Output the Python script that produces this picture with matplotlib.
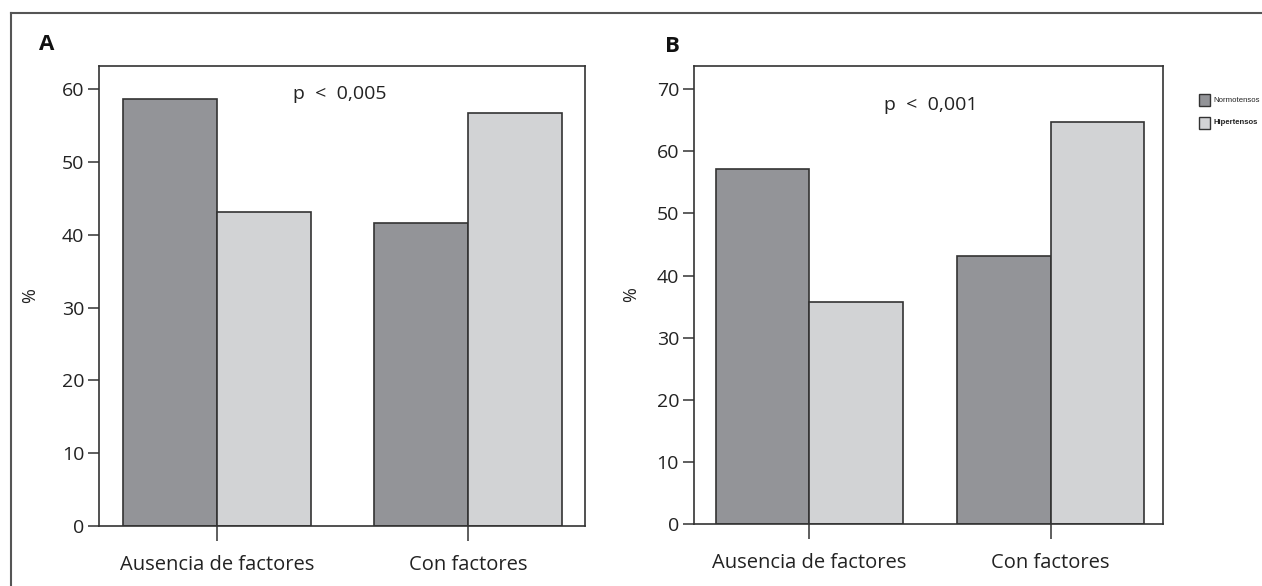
import matplotlib
matplotlib.use("Agg")
import matplotlib.pyplot as plt
from matplotlib.lines import Line2D
from matplotlib.patches import Rectangle

categories = ["Ausencia de factores", "Con factores"]
series_names = ["Normotensos", "Hipertensos"]
panel_a_normo = [58.7, 41.6]
panel_a_hiper = [43.1, 56.8]
panel_b_normo = [57.1, 43.2]
panel_b_hiper = [35.7, 64.7]
panel_a_ticks = [0, 10, 20, 30, 40, 50, 60]
panel_b_ticks = [0, 10, 20, 30, 40, 50, 60, 70]
p_text_a = "p  <  0,005"
p_text_b = "p  <  0,001"

W, H = 1262, 586
DPI = 100
DARK = "#939498"
LIGHT = "#d2d3d5"
EDGE = "#333333"
FONT = ["Open Sans", "DejaVu Sans"]
plt.rcParams["font.family"] = FONT

fig = plt.figure(figsize=(W / DPI, H / DPI), dpi=DPI)


def px_axes(x0, y0, x1, y1):
    return fig.add_axes([x0 / W, 1 - y1 / H, (x1 - x0) / W, (y1 - y0) / H])


def draw_panel(ax, normo, hiper, ticks, ylim, xlim, bw, ptext, pxy, ylab_x):
    x = list(range(len(categories)))
    ax.bar([i - bw / 2 for i in x], normo, width=bw, color=DARK,
           edgecolor=EDGE, linewidth=1.2, zorder=2)
    ax.bar([i + bw / 2 for i in x], hiper, width=bw, color=LIGHT,
           edgecolor=EDGE, linewidth=1.2, zorder=2)
    ax.set_xlim(*xlim)
    ax.set_ylim(*ylim)
    ax.set_yticks(ticks)
    ax.set_yticklabels([str(t) for t in ticks])
    ax.set_xticks(x)
    ax.set_xticklabels(categories)
    ax.tick_params(axis="y", direction="out", length=8, width=1.1,
                   color=EDGE, labelsize=14, pad=3, labelcolor="#222222")
    ax.tick_params(axis="x", direction="out", length=11, width=1.1,
                   color=EDGE, labelsize=14.5, pad=10, labelcolor="#222222")
    for s in ax.spines.values():
        s.set_color(EDGE)
        s.set_linewidth(1.2)
    ax.set_ylabel("%", fontsize=13, color="#222222")
    ax.yaxis.set_label_coords(ylab_x, 0.5)
    ax.text(pxy[0], pxy[1], ptext, transform=ax.transAxes, fontsize=14,
            ha="center", va="center", color="#222222")


axA = px_axes(99.5, 66, 585, 526)
draw_panel(axA, panel_a_normo, panel_a_hiper, panel_a_ticks, (0, 63.2),
           (-0.468, 1.466), 0.375, p_text_a,
           ((340 - 99.5) / 485.5, (526 - 94) / 460),
           (39 - 99.5) / 485.5)

axB = px_axes(694.3, 66, 1163, 524)
draw_panel(axB, panel_b_normo, panel_b_hiper, panel_b_ticks, (0, 73.75),
           (-0.476, 1.465), 0.387, p_text_b,
           ((931 - 694.3) / 468.7, (524 - 105) / 458),
           (640 - 694.3) / 468.7)

# Panel letters
fig.text(47 / W, 1 - 45 / H, "A", fontsize=16, fontweight="bold",
         ha="center", va="center", color="#111111")
fig.text(672 / W, 1 - 47 / H, "B", fontsize=16, fontweight="bold",
         ha="center", va="center", color="#111111")

# Legend
for i, (name, col, wt) in enumerate(zip(series_names, [DARK, LIGHT],
                                        ["normal", "bold"])):
    yc = 100 + i * 23
    fig.add_artist(Rectangle((1199 / W, 1 - (yc + 6) / H), 11 / W, 12 / H,
                             transform=fig.transFigure, facecolor=col,
                             edgecolor=EDGE, linewidth=1.0))
    fig.text(1213 / W, 1 - yc / H, name, fontsize=5.6, fontweight=wt,
             ha="left", va="center", color="#222222",
             family=["Liberation Sans", "DejaVu Sans"])

# Outer frame (top and left edges visible)
fig.add_artist(Line2D([11 / W, 1.0], [1 - 13 / H, 1 - 13 / H],
                      transform=fig.transFigure, color="#555555", lw=1.5))
fig.add_artist(Line2D([11 / W, 11 / W], [1 - 13 / H, 0.0],
                      transform=fig.transFigure, color="#555555", lw=1.5))

fig.savefig("out.png", dpi=DPI)
